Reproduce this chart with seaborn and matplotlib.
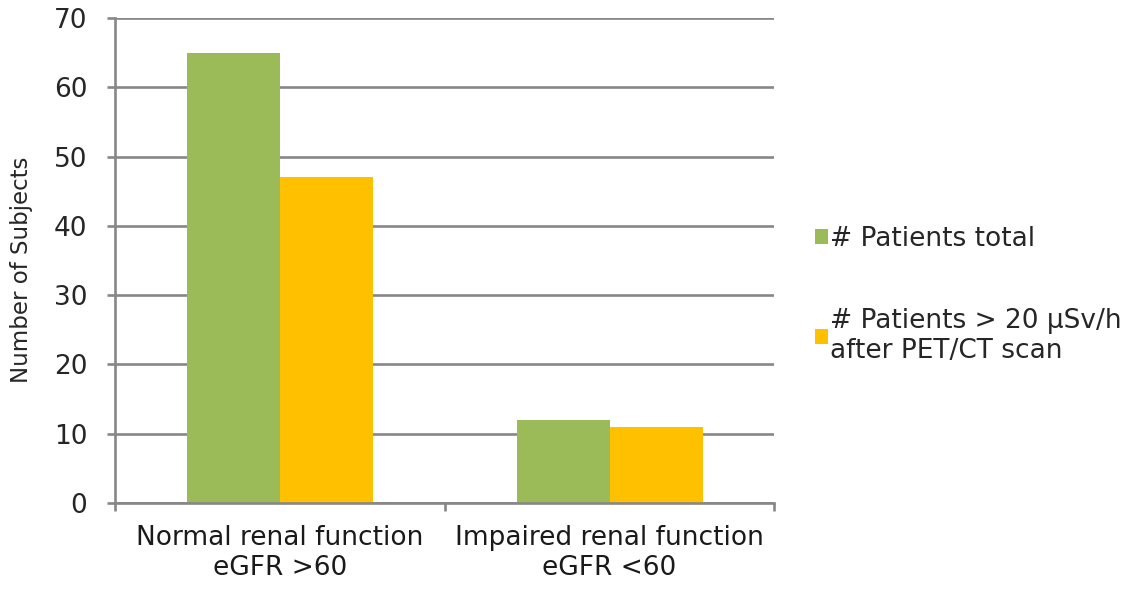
import pandas as pd
import seaborn as sns
import matplotlib.pyplot as plt

# Data
categories = ["Normal renal function\neGFR >60", "Impaired renal function\neGFR <60"]
series_names = ["# Patients total", "# Patients > 20 µSv/h\nafter PET/CT scan"]
patients_total = [65, 12]
patients_above_20 = [47, 11]
y_ticks = [0, 10, 20, 30, 40, 50, 60, 70]

df = pd.DataFrame({
    "group": categories * 2,
    "series": [series_names[0]] * 2 + [series_names[1]] * 2,
    "count": patients_total + patients_above_20,
})

sns.set_style("white")
plt.rcParams['font.family'] = ['DejaVu Sans']

grey = "#878787"
fig = plt.figure(figsize=(11.44, 5.9), dpi=100)
ax = fig.add_axes([0.1005, 0.1475, 0.5765, 0.822])

sns.barplot(data=df, x="group", y="count", hue="series",
            palette=["#9BBB59", "#FFC000"], width=0.564, saturation=1,
            linewidth=0, ax=ax)

ax.set_xlim(-0.5, 1.5)
ax.set_ylim(0, 70)
ax.set_yticks(y_ticks)
ax.yaxis.grid(True, color=grey, linewidth=1.9)
ax.set_axisbelow(True)

for side in ["top", "right"]:
    ax.spines[side].set_visible(False)
for side in ["left", "bottom"]:
    ax.spines[side].set_color(grey)
    ax.spines[side].set_linewidth(1.9)

# ticks
ax.set_xticks([-0.5, 0.5, 1.5], minor=True)
ax.tick_params(axis="x", which="major", bottom=False, length=0, pad=16,
               labelsize=19, labelcolor="#1a1a1a")
ax.tick_params(axis="x", which="minor", bottom=True, length=6, width=1.9,
               color=grey, direction="out")
ax.tick_params(axis="y", left=True, length=6, width=1.9, color=grey,
               pad=14, labelsize=19, labelcolor="#262626")

ax.set_xlabel("")
ax.set_ylabel("Number of Subjects", fontsize=16.5, color="#262626")
ax.yaxis.set_label_coords(-0.125, 0.48)

# legend
handles, labels = ax.get_legend_handles_labels()
ax.legend(handles, labels, loc="center left", bbox_to_anchor=(0.712, 0.5),
          bbox_transform=fig.transFigure, frameon=False, fontsize=19,
          handlelength=0.5, handleheight=0.5, handletextpad=0.1,
          labelspacing=2.1, borderpad=0, borderaxespad=0)

fig.savefig("out.png", dpi=100)
